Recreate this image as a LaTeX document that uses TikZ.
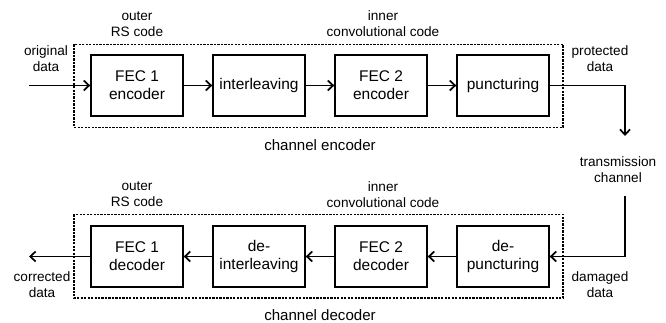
\documentclass[tikz,border=0pt]{standalone}
\usepackage{fontspec}
\setmainfont{Liberation Sans}
\usetikzlibrary{arrows.meta}
\begin{document}
\begin{tikzpicture}[x=0.75pt,y=-0.75pt,
  blk/.style={draw,line width=1.5pt,minimum width=68.5pt,minimum height=46pt,
    align=center,inner sep=0pt,font=\fontsize{11.6}{13.5}\selectfont},
  lbl/.style={align=center,inner sep=0pt,font=\fontsize{10.2}{11.8}\selectfont},
  caption/.style={inner sep=0pt,font=\fontsize{11.3}{13}\selectfont},
  frame/.style={draw,line width=0.95pt,dash pattern=on 1.7pt off 0.9pt},
  flow/.style={line width=1.3pt,-{Straight Barb[length=4pt,width=7.5pt,line width=1.3pt]}}]
\useasboundingbox (0,0) rectangle (666,323);

% encoder chain
\draw[frame] (74,44.5) rectangle (563,127.5);
\node[blk] (e1) at (137,85.5) {FEC 1\\encoder};
\node[blk] (e2) at (259,85.5) {interleaving};
\node[blk] (e3) at (381,85.5) {FEC 2\\encoder};
\node[blk] (e4) at (503,85.5) {puncturing};
\coordinate (ein) at (29,85.5);
\coordinate (tx) at (625,85.5);
\coordinate (txd) at (625,136);

\draw[flow] (ein) -- (e1);
\draw[flow] (e1) -- (e2);
\draw[flow] (e2) -- (e3);
\draw[flow] (e3) -- (e4);
\draw[flow] (e4.east) -- (tx) -- (txd);

\node[lbl] (eo) at (137,24) {outer\\RS code};
\node[lbl] (ei) at (383,24) {inner\\convolutional code};
\node[lbl] (od) at (46,59) {original\\data};
\node[lbl] (pd) at (600,59) {protected\\data};
\node[caption] (ce) at (320,145.5) {channel encoder};
\node[lbl] (tc) at (618,170) {transmission\\channel};

% decoder chain
\draw[frame] (74,214.5) rectangle (563,298);
\node[blk] (d1) at (137,256.5) {FEC 1\\decoder};
\node[blk] (d2) at (259,256.5) {de-\\interleaving};
\node[blk] (d3) at (381,256.5) {FEC 2\\decoder};
\node[blk] (d4) at (503,256.5) {de-\\puncturing};
\coordinate (rx) at (625,196);
\coordinate (rxc) at (625,256.5);
\coordinate (dout) at (29,256.5);

\draw[flow] (rx) -- (rxc) -- (d4.east);
\draw[flow] (d4) -- (d3);
\draw[flow] (d3) -- (d2);
\draw[flow] (d2) -- (d1);
\draw[flow] (d1) -- (dout);

\node[lbl] (do) at (137,194.5) {outer\\RS code};
\node[lbl] (di) at (383,194.5) {inner\\convolutional code};
\node[lbl] (cd) at (42,284.5) {corrected\\data};
\node[lbl] (dd) at (600,284.5) {damaged\\data};
\node[caption] (cdc) at (320,315.5) {channel decoder};
\end{tikzpicture}
\end{document}
